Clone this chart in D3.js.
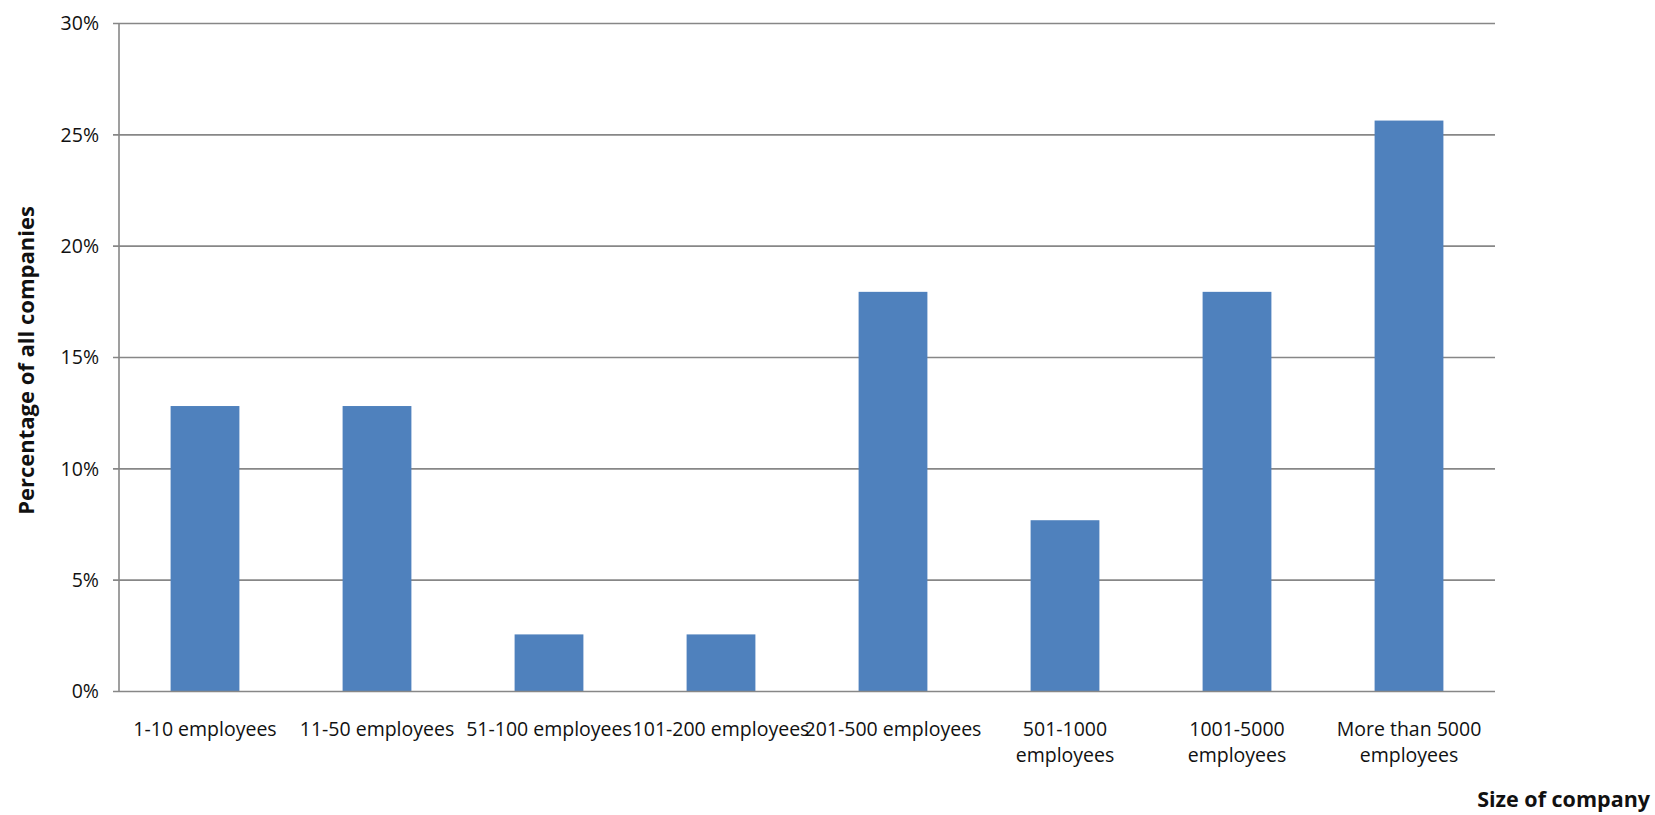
<!DOCTYPE html>
<html>
<head>
<meta charset="utf-8">
<script src="https://cdn.jsdelivr.net/npm/d3@7"></script>
<style>
  html, body { margin: 0; padding: 0; background: #fff; }
  svg { display: block; font-family: "Open Sans", Lato, sans-serif; }
</style>
</head>
<body>
<svg id="chart" width="1655" height="815"></svg>
<script>
// Company size groups and their share of all companies (39 companies surveyed)
const categories = [
  "1-10 employees",
  "11-50 employees",
  "51-100 employees",
  "101-200 employees",
  "201-500 employees",
  "501-1000 employees",
  "1001-5000 employees",
  "More than 5000 employees"
];
// Labels that are set on two lines (last word on the second line)
const twoLineLabels = ["501-1000 employees", "1001-5000 employees", "More than 5000 employees"];
const companyCounts = [5, 5, 1, 1, 7, 3, 7, 10];
const totalCompanies = 39;
const shares = companyCounts.map(c => c / totalCompanies);
const yTicks = [0, 0.05, 0.10, 0.15, 0.20, 0.25, 0.30];
const yTitle = "Percentage of all companies";
const xTitle = "Size of company";

const svg = d3.select("#chart");
const plot = { left: 119, right: 1495, top: 23.5, bottom: 691.5 };

const x = d3.scaleBand()
  .domain(categories)
  .range([plot.left, plot.right])
  .paddingInner(0.6)
  .paddingOuter(0.3);

const y = d3.scaleLinear()
  .domain([0, 0.30])
  .range([plot.bottom, plot.top]);

const gridColor = "#878787";
const textColor = "#111";

// Horizontal gridlines with short ticks left of the axis
svg.append("g")
  .selectAll("line")
  .data(yTicks.filter(t => t > 0))
  .join("line")
  .attr("x1", plot.left - 6)
  .attr("x2", plot.right)
  .attr("y1", d => y(d))
  .attr("y2", d => y(d))
  .attr("stroke", gridColor)
  .attr("stroke-width", 1.6);

// Bars
svg.append("g")
  .selectAll("rect")
  .data(categories)
  .join("rect")
  .attr("x", d => x(d))
  .attr("width", x.bandwidth())
  .attr("y", (d, i) => y(shares[i]))
  .attr("height", (d, i) => y(0) - y(shares[i]))
  .attr("fill", "#4F81BD");

// Axis lines
svg.append("line")
  .attr("x1", plot.left).attr("x2", plot.left)
  .attr("y1", plot.top).attr("y2", plot.bottom)
  .attr("stroke", gridColor).attr("stroke-width", 1.6);
svg.append("line")
  .attr("x1", plot.left - 6).attr("x2", plot.right)
  .attr("y1", y(0)).attr("y2", y(0))
  .attr("stroke", gridColor).attr("stroke-width", 1.6);

// Y tick labels
const pct = d3.format(".0%");
svg.append("g")
  .selectAll("text")
  .data(yTicks)
  .join("text")
  .attr("x", 99)
  .attr("y", d => y(d) + 1.5)
  .attr("text-anchor", "end")
  .attr("dominant-baseline", "middle")
  .attr("font-size", 19.5)
  .attr("fill", textColor)
  .text(d => pct(d));

// X tick labels
const xLabels = svg.append("g")
  .attr("font-size", 19.5)
  .attr("fill", textColor)
  .attr("text-anchor", "middle");

categories.forEach(cat => {
  const cx = x(cat) + x.bandwidth() / 2;
  const t = xLabels.append("text").attr("x", cx).attr("y", 736);
  if (twoLineLabels.includes(cat)) {
    const words = cat.split(" ");
    const last = words.pop();
    t.append("tspan").attr("x", cx).attr("dy", 0).text(words.join(" "));
    t.append("tspan").attr("x", cx).attr("dy", 25.5).text(last);
  } else {
    t.text(cat);
  }
});

// Axis titles
svg.append("text")
  .attr("transform", `translate(34, ${(plot.top + plot.bottom) / 2 + 3}) rotate(-90)`)
  .attr("text-anchor", "middle")
  .attr("font-size", 22)
  .attr("font-weight", "bold")
  .attr("fill", textColor)
  .text(yTitle);

svg.append("text")
  .attr("x", 1650)
  .attr("y", 807)
  .attr("text-anchor", "end")
  .attr("font-size", 21.5)
  .attr("font-weight", "bold")
  .attr("fill", textColor)
  .text(xTitle);
</script>
</body>
</html>
